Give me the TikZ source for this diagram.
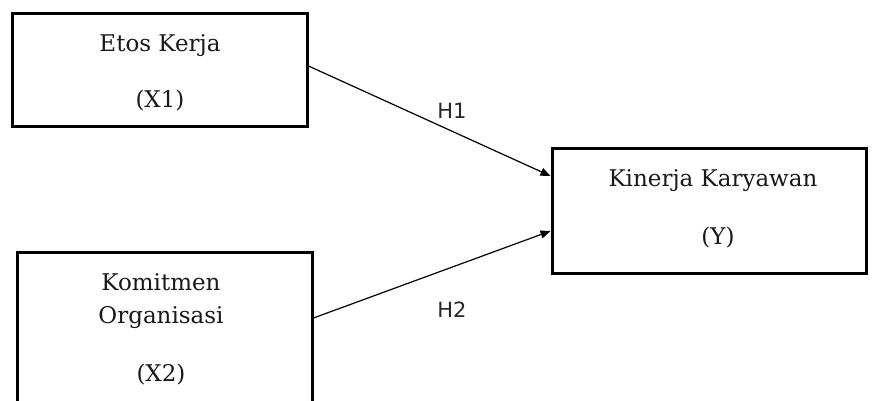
\documentclass[tikz,border=0pt]{standalone}
\usepackage{fontspec}
\setmainfont{DejaVu Serif}
\newfontfamily\lblfont{DejaVu Sans}
\usetikzlibrary{arrows.meta}
\tikzset{
  box/.style={draw=black, line width=3pt, fill=white, inner sep=0pt},
  txt/.style={inner sep=0pt, font=\fontsize{23}{26}\selectfont, text=black!90},
  hlbl/.style={inner sep=0pt, font=\lblfont\fontsize{21}{24}\selectfont, text=black!85},
  conn/.style={line width=1.2pt, -{Triangle[length=10pt,width=8pt]}}
}
\begin{document}
\begin{tikzpicture}[x=1pt,y=-1pt]
\useasboundingbox (0,0) rectangle (873,401);
\clip (0,0) rectangle (873,401);
\node[box, minimum width=295pt, minimum height=113pt] (x1) at (159.5,70.5) {};
\node[box, minimum width=314pt, minimum height=124pt] (y) at (709,211) {};
\node[box, minimum width=295pt, minimum height=163pt] (x2) at (164.5,333.5) {};
\node[txt] (t1) at (160,46) {Etos Kerja};
\node[txt] (t1b) at (160,101) {(X1)};
\node[txt] (ty) at (713,181) {Kinerja Karyawan};
\node[txt] (tyb) at (718,238) {(Y)};
\node[txt] (t2) at (161,282) {Komitmen};
\node[txt] (t2b) at (161,318) {Organisasi};
\node[txt] (t2c) at (161,375) {(X2)};
\node[hlbl] (h1) at (452,111) {H1};
\node[hlbl] (h2) at (452,310) {H2};
\draw[conn] ([yshift=4.5pt]x1.east) -- ([yshift=35pt]y.west);
\draw[conn] ([yshift=15.5pt]x2.east) -- ([yshift=-20pt]y.west);
\end{tikzpicture}
\end{document}
